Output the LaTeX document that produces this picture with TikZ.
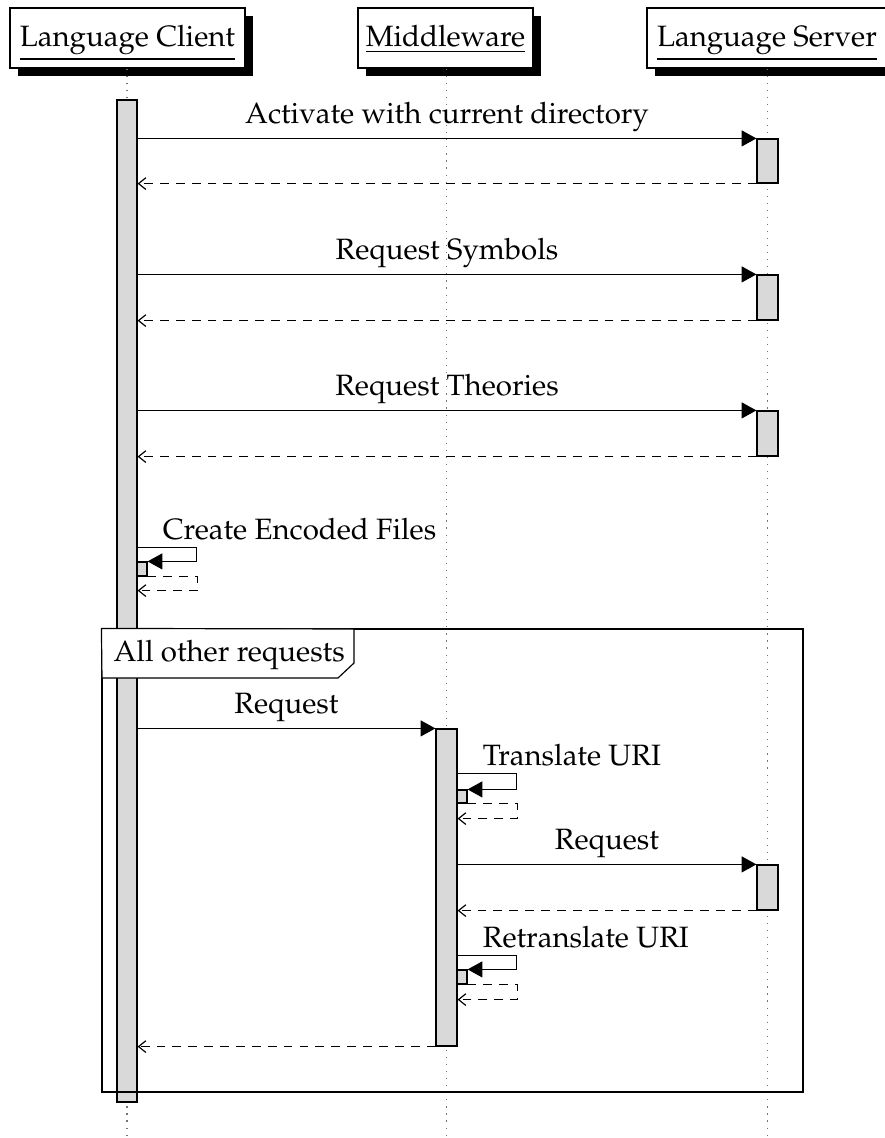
\documentclass[tikz,border=0pt]{standalone}
\usepackage[T1]{fontenc}
\usepackage{mathpazo}
\usetikzlibrary{arrows.meta,fit,shadows}
\begin{document}
\begin{tikzpicture}[x=0.34pt,y=-0.34pt,
  every node/.style={font=\fontsize{10}{12}\selectfont},
  actor/.style={draw, fill=white, line width=0.45pt, minimum height=20.4pt, inner sep=0pt,
    text height=9pt, text depth=3.2pt,
    drop shadow={shadow xshift=2.7pt, shadow yshift=-2.7pt, fill=black, opacity=1}},
  bar/.style={draw, fill=black!15, inner sep=0pt, line width=0.4pt},
  life/.style={dotted, black!55, line width=0.4pt},
  msg/.style={line width=0.4pt, -{Triangle[length=5pt,width=5.4pt]}},
  ret/.style={line width=0.4pt, dash pattern=on 3pt off 2.4pt, -{Straight Barb[length=2.5pt,width=4pt]}},
  lbl/.style={inner sep=0pt, anchor=base},
  selflbl/.style={inner sep=0pt, anchor=base west},
  framebox/.style={draw, line width=0.4pt, inner sep=0pt},
]
\useasboundingbox (0,0) rectangle (885,1138);

% actors
\node[actor, minimum width=79.9pt] (lc) at (127.5,38) {\underline{Language Client}};
\node[actor, minimum width=59.5pt] (mw) at (445.5,38) {\underline{Middleware}};
\node[actor, minimum width=81.6pt] (ls) at (767,38) {\underline{Language Server}};

% lifelines
\coordinate (lcend) at (127,1138);
\coordinate (mwend) at (446.5,1138);
\coordinate (lsend) at (767.5,1138);
\draw[life] (lc.south -| lcend) -- (lcend);
\draw[life] (mw.south -| mwend) -- (mwend);
\draw[life] (ls.south -| lsend) -- (lsend);

% activation bars
\node[bar, fit={(117,100)(137,1102)}] (cbar) {};
\node[bar, fit={(757,139)(778,183)}] (sb1) {};
\node[bar, fit={(757,275)(778,320)}] (sb2) {};
\node[bar, fit={(757,411)(778,456)}] (sb3) {};
\node[bar, fit={(137,562)(147,576)}] (cs1) {};
\node[bar, fit={(436,729)(457,1046)}] (mbar) {};
\node[bar, fit={(457,790)(467,803)}] (ms1) {};
\node[bar, fit={(757,865)(778,910)}] (sb4) {};
\node[bar, fit={(457,970)(467,984)}] (ms2) {};

% frame
\node[framebox, fit={(102,629)(803,1092)}] (frame) {};
\draw[fill=white, line width=0.4pt] (frame.north west) -- (354,629) -- (354,663) -- (338,678) -- (102,678) -- cycle;
\node[inner sep=0pt, anchor=base west] (flabel) at (113,661) {All other requests};

% messages
\draw[msg] (cbar.east |- sb1.north) -- (sb1.north west)
  node[lbl, midway, yshift=5.1pt] {Activate with current directory};
\draw[ret] (sb1.south west) -- (cbar.east |- sb1.south);

\draw[msg] (cbar.east |- sb2.north) -- (sb2.north west)
  node[lbl, midway, yshift=5.1pt] {Request Symbols};
\draw[ret] (sb2.south west) -- (cbar.east |- sb2.south);

\draw[msg] (cbar.east |- sb3.north) -- (sb3.north west)
  node[lbl, midway, yshift=5.1pt] {Request Theories};
\draw[ret] (sb3.south west) -- (cbar.east |- sb3.south);

% self call: Create Encoded Files
\draw[msg] (cs1.north west) ++(0,-14) coordinate (c1s) -- ++(60,0) |- (cs1.north east);
\node[selflbl] at ([xshift=8.8pt, yshift=2.7pt]c1s) {Create Encoded Files};
\draw[ret] (cs1.south east) -- ++(50,0) -- ++(0,14) -- ++(-60,0);

% request to middleware
\draw[msg] (cbar.east |- mbar.north) -- (mbar.north west)
  node[lbl, midway, yshift=5.1pt] {Request};

% self call: Translate URI
\draw[msg] (ms1.north west) ++(0,-16) coordinate (m1s) -- ++(60,0) |- (ms1.north east);
\node[selflbl] at ([xshift=8.8pt, yshift=2.7pt]m1s) {Translate URI};
\draw[ret] (ms1.south east) -- ++(50,0) -- ++(0,15) -- ++(-60,0);

% request to server
\draw[msg] (mbar.east |- sb4.north) -- (sb4.north west)
  node[lbl, midway, yshift=5.1pt] {Request};
\draw[ret] (sb4.south west) -- (mbar.east |- sb4.south);

% self call: Retranslate URI
\draw[msg] (ms2.north west) ++(0,-14) coordinate (m2s) -- ++(60,0) |- (ms2.north east);
\node[selflbl] at ([xshift=8.8pt, yshift=2.7pt]m2s) {Retranslate URI};
\draw[ret] (ms2.south east) -- ++(50,0) -- ++(0,15) -- ++(-60,0);

% return to client
\draw[ret] (mbar.south west) -- (cbar.east |- mbar.south);
\end{tikzpicture}
\end{document}
